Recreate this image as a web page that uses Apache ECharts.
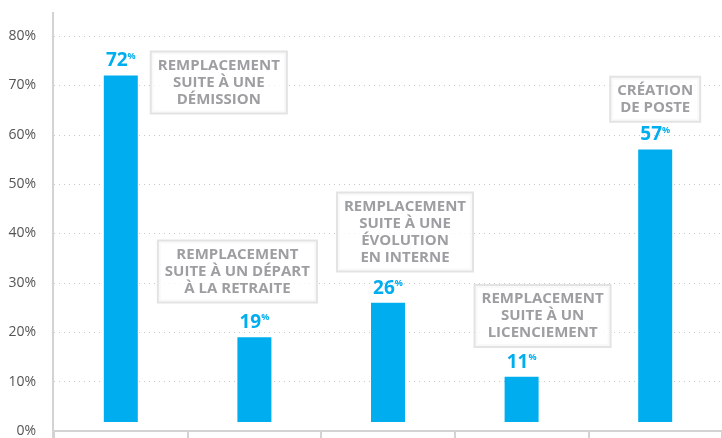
<!DOCTYPE html>
<html>
<head>
<meta charset="utf-8">
<script src="https://cdn.jsdelivr.net/npm/echarts@6/dist/echarts.min.js"></script>
<style>
  html, body { margin: 0; padding: 0; background: #fff; }
  #chart { width: 722px; height: 438px; }
</style>
</head>
<body>
<div id="chart"></div>
<script>
// Données du graphique
const categories = ['Démission', 'Départ à la retraite', 'Évolution en interne', 'Licenciement', 'Création de poste'];
const values = [72, 19, 26, 11, 57];
const notes = [
    'REMPLACEMENT\nSUITE À UNE\nDÉMISSION',
    'REMPLACEMENT\nSUITE À UN DÉPART\nÀ LA RETRAITE',
    'REMPLACEMENT\nSUITE À UNE\nÉVOLUTION\nEN INTERNE',
    'REMPLACEMENT\nSUITE À UN\nLICENCIEMENT',
    'CRÉATION\nDE POSTE'
];
const yMax = 80;
const yStep = 10;

// Placement des encadrés (niveau en % de l'axe, décalage horizontal en px)
const noteLayout = [
    { level: 70.6, dx: 98 },
    { level: 32.3, dx: -17 },
    { level: 40.3, dx: 17 },
    { level: 23.3, dx: 21 },
    { level: 67.2, dx: 0 }
];

const BLUE = '#00aeef';
const GREY_LINE = '#d3d3d3';
const FONT = 'Open Sans';

const chart = echarts.init(document.getElementById('chart'));

const noteData = notes.map((txt, i) => ({
    value: [i, noteLayout[i].level],
    label: { offset: [noteLayout[i].dx, 0] }
}));

chart.setOption({
    animation: false,
    grid: { left: 54, right: -4, top: 36, bottom: 7 },
    xAxis: {
        type: 'category',
        data: categories,
        z: 20,
        axisLine: { lineStyle: { color: GREY_LINE, width: 2 } },
        axisTick: { show: true, interval: 0, length: 8, lineStyle: { color: GREY_LINE, width: 2 } },
        axisLabel: { show: false }
    },
    yAxis: {
        type: 'value',
        min: 0,
        max: yMax,
        interval: yStep,
        axisLine: { show: false },
        axisTick: { show: false },
        axisLabel: {
            formatter: '{value}%',
            color: '#555',
            fontFamily: FONT,
            fontSize: 14,
            margin: 18
        },
        splitLine: { lineStyle: { color: '#c8c8c8', type: [1, 4], width: 1 } }
    },
    series: [
        {
            type: 'bar',
            data: values,
            barWidth: 34,
            itemStyle: { color: BLUE },
            label: {
                show: true,
                position: 'top',
                distance: 5,
                formatter: '{a|{c}}{b|%}',
                rich: {
                    a: { color: BLUE, fontFamily: FONT, fontWeight: 'bold', fontSize: 19, lineHeight: 19 },
                    b: { color: BLUE, fontFamily: FONT, fontWeight: 'bold', fontSize: 9, lineHeight: 9, verticalAlign: 'top' }
                }
            },
            z: 2
        },
        {
            type: 'scatter',
            data: noteData,
            symbolSize: 0,
            silent: true,
            z: 5,
            label: {
                show: true,
                position: 'inside',
                formatter: (p) => notes[p.dataIndex],
                color: '#84868a',
                fontFamily: FONT,
                fontWeight: 'bold',
                fontSize: 15,
                lineHeight: 17,
                align: 'center',
                backgroundColor: '#fff',
                borderColor: '#dcdcdc',
                borderWidth: 2,
                padding: [5, 6, 4, 6]
            }
        }
    ]
});

// Ligne verticale de l'axe Y (dépasse en haut) + petit blanc entre les barres et l'axe X
const y0 = chart.convertToPixel({ yAxisIndex: 0 }, 0);
chart.setOption({
    graphic: [
        {
            type: 'rect',
            shape: { x: 55, y: y0 - 9, width: 722, height: 9 },
            style: { fill: '#fff' },
            z: 10
        },
        {
            type: 'line',
            shape: { x1: 53, y1: 12, x2: 53, y2: 438 },
            style: { stroke: GREY_LINE, lineWidth: 2 },
            z: 60
        }
    ]
});
</script>
</body>
</html>
